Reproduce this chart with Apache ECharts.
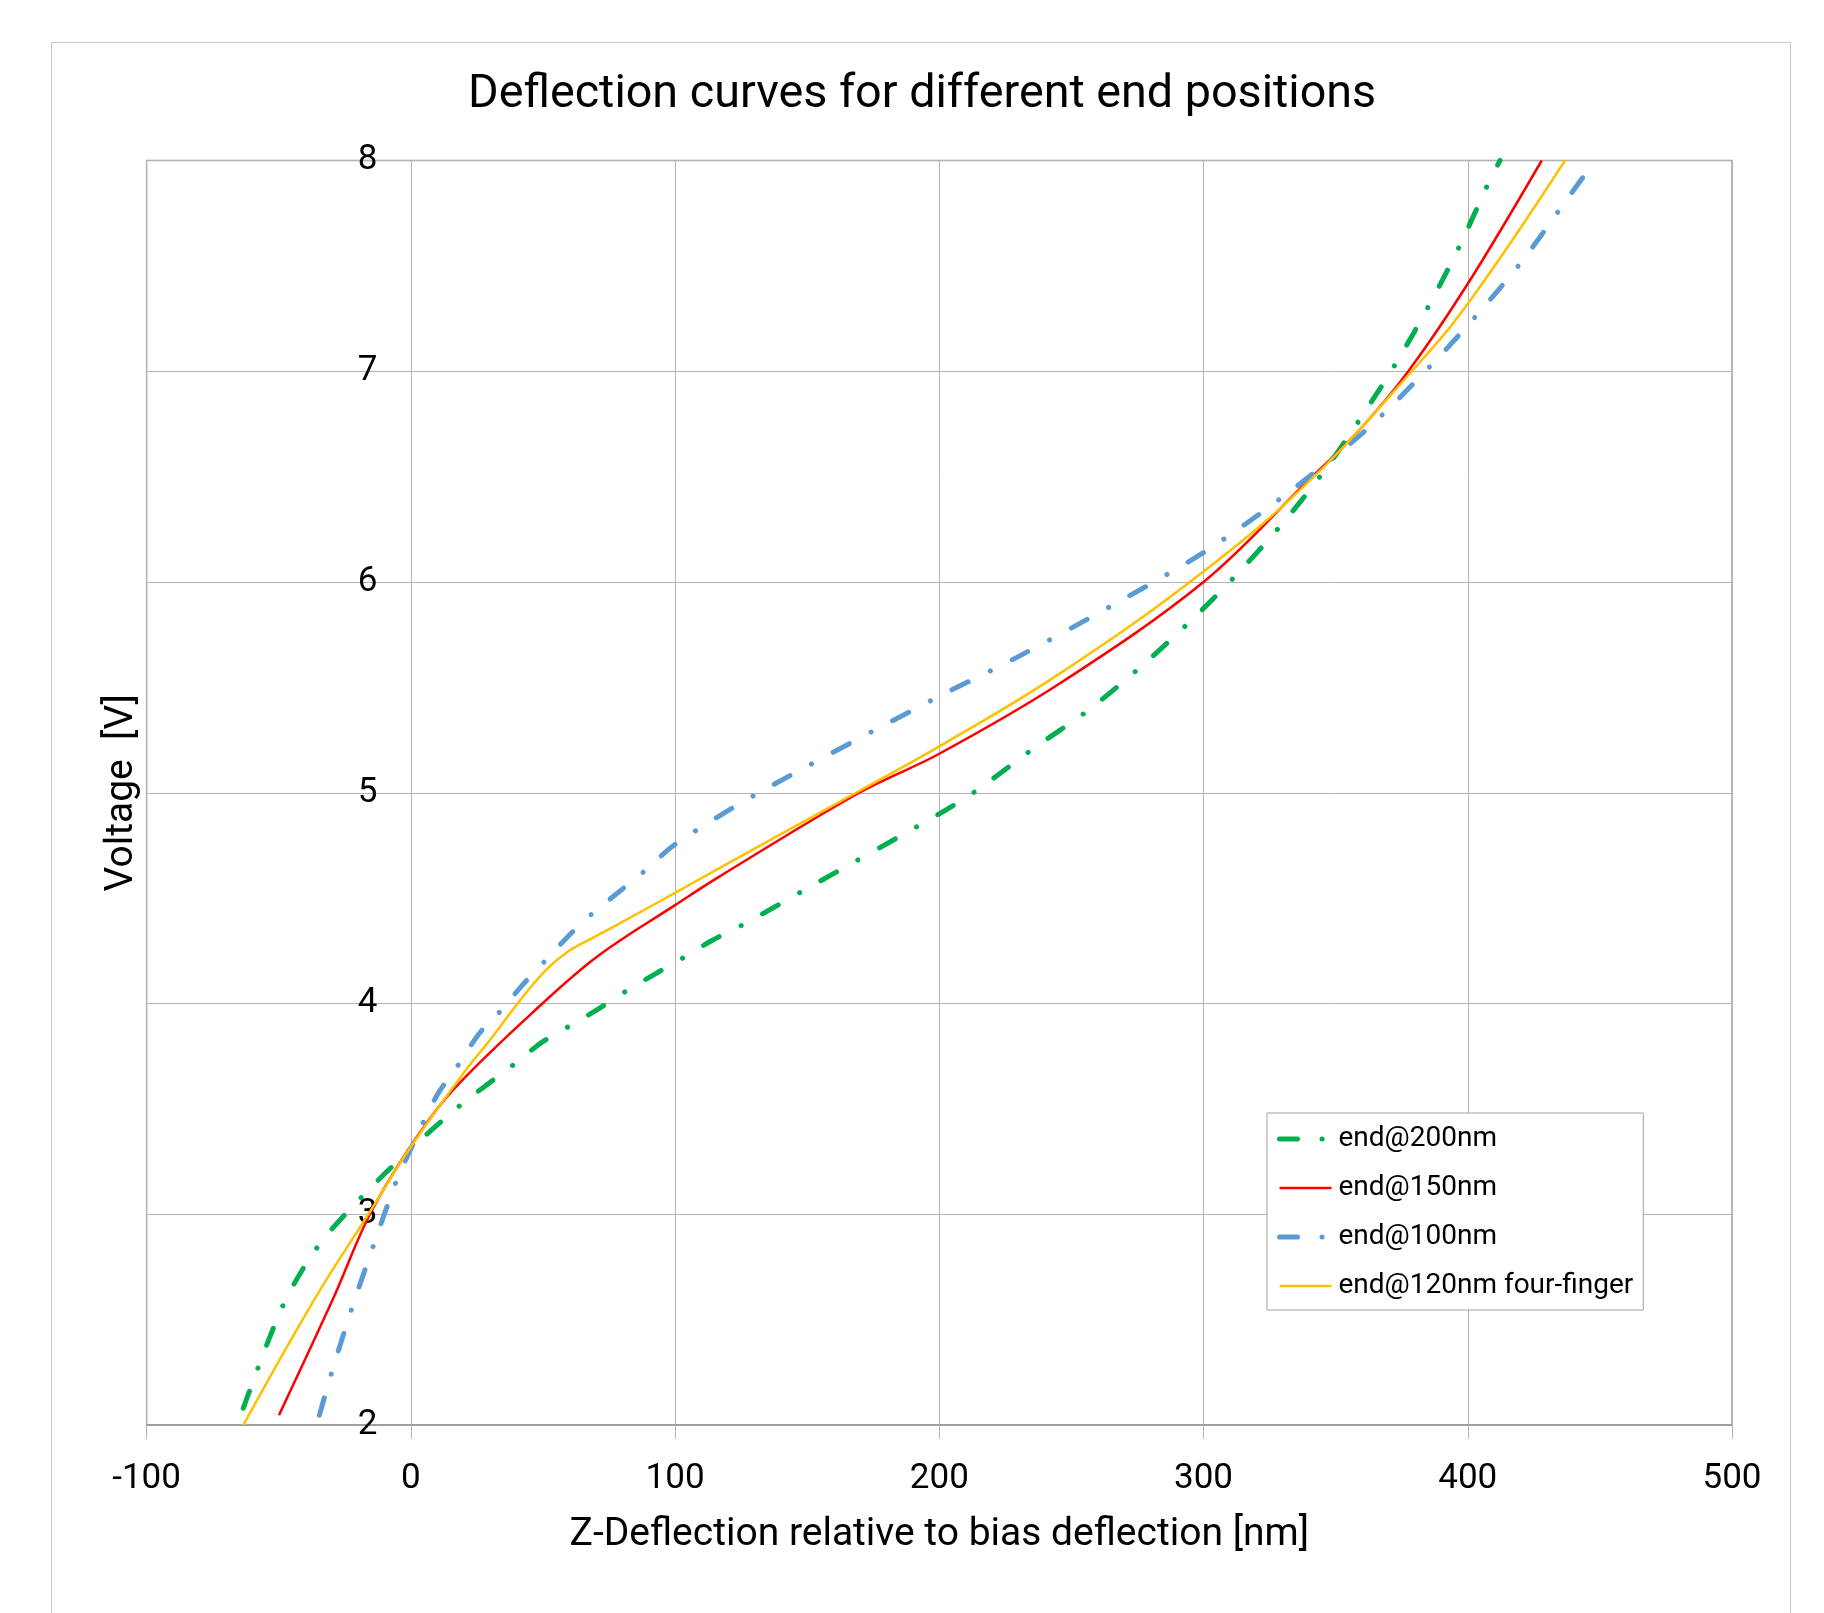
<!DOCTYPE html>
<html>
<head>
<meta charset="utf-8">
<title>Deflection curves</title>
<script src="https://cdn.jsdelivr.net/npm/echarts@6/dist/echarts.min.js"></script>
<style>
  html, body { margin: 0; padding: 0; background: #fff; }
  #chart { width: 1824px; height: 1613px; }
</style>
</head>
<body>
<div id="chart"></div>
<script>
// values (x = deflection nm, v = voltage V)
const seriesNames = ['end@200nm', 'end@150nm', 'end@100nm', 'end@120nm four-finger'];

const end200X = [-63.4, -48.3, -35, -18, 0, 18.8, 39.1, 49.8, 60.2, 71.2, 82, 92.7, 103.8, 114.1, 126.6, 148.3, 200, 214.5, 235.3, 256.1, 275.7, 294.6, 312.5, 329.5, 345.4, 359.6, 373.4, 386.1, 397.5, 408.1, 412.2];
const end200V = [2.08, 2.57, 2.85, 3.09, 3.31, 3.518, 3.712, 3.818, 3.894, 3.976, 4.063, 4.142, 4.222, 4.30, 4.38, 4.534, 4.90, 5.014, 5.207, 5.389, 5.592, 5.809, 6.035, 6.272, 6.522, 6.78, 7.05, 7.33, 7.61, 7.90, 8.0];

const end150X = [-49.9, -29.4, -15.5, 0, 16, 49.8, 71.2, 100, 116.6, 169.7, 200, 245.4, 300, 338.7, 358.9, 377.5, 400, 428];
const end150V = [2.047, 2.6, 3.0, 3.324, 3.59, 4.0, 4.229, 4.467, 4.601, 5.0, 5.185, 5.517, 6.0, 6.47, 6.72, 7.0, 7.415, 8.0];

const end100X = [-34.6, -30, -22.4, -14.2, -5.4, 0, 9.7, 18.3, 25.9, 34, 42.2, 51.1, 59.3, 69, 78.8, 88.6, 100, 130.6, 198, 229, 265.6, 300, 330.6, 361.4, 387, 404, 420.4, 435.5, 445];
const end100V = [2.047, 2.247, 2.55, 2.85, 3.16, 3.31, 3.56, 3.715, 3.858, 3.965, 4.087, 4.206, 4.316, 4.43, 4.53, 4.63, 4.755, 4.992, 5.445, 5.64, 5.89, 6.14, 6.41, 6.72, 7.04, 7.275, 7.52, 7.78, 7.945];

const end120X = [-63.4, -36.3, -16.1, 0, 20.8, 30.9, 40.4, 51.1, 59.9, 68.7, 81.3, 100, 115.4, 168.5, 200, 245.4, 300, 340.6, 378.8, 400, 436.8];
const end120V = [2.0, 2.6, 3.0, 3.32, 3.684, 3.842, 4.0, 4.158, 4.25, 4.31, 4.396, 4.525, 4.633, 5.0, 5.22, 5.564, 6.05, 6.486, 7.0, 7.32, 8.0];

const yTicks = [2, 3, 4, 5, 6, 7, 8];

function zip(xs, ys) {
  return xs.map((x, i) => [x, ys[i]]);
}

const fontFam = 'Roboto, "Liberation Sans", sans-serif';
const gridColor = '#b3b3b3';
const dashDot = [18, 24.5, 0.1, 24.5];

const chart = echarts.init(document.getElementById('chart'), null, { renderer: 'canvas' });

const option = {
  backgroundColor: '#fff',
  textStyle: { fontFamily: fontFam, color: '#000' },
  animation: false,
  title: {
    text: 'Deflection curves for different end positions',
    left: 463,
    top: 67,
    padding: [5, 5, 5, 5],
    textStyle: { fontSize: 46.7, fontWeight: 'normal', color: '#000', fontFamily: fontFam }
  },
  graphic: [{
    type: 'rect',
    shape: { x: 51.5, y: 42.5, width: 1739, height: 1700 },
    style: { fill: 'none', stroke: '#c8c8c8', lineWidth: 1 },
    silent: true,
    z: -10
  }],
  grid: {
    left: 146.6,
    right: 92,
    top: 160.5,
    bottom: 188,
    show: true,
    borderColor: '#a0a0a0',
    borderWidth: 1.5,
    containLabel: false,
    outerBoundsMode: 'none'
  },
  legend: {
    orient: 'vertical',
    left: 1267,
    top: 1113,
    padding: [12, 10, 10, 10],
    itemWidth: 52,
    itemHeight: 20,
    itemGap: 21,
    backgroundColor: '#fff',
    borderColor: '#a0a0a0',
    borderWidth: 1,
    lineStyle: { width: 'inherit' },
    itemStyle: { opacity: 0 },
    textStyle: { fontSize: 28, color: '#000', fontFamily: fontFam, padding: [0, 0, 0, 2] },
    data: seriesNames
  },
  xAxis: {
    type: 'value',
    min: -100,
    max: 500,
    interval: 100,
    name: 'Z-Deflection relative to bias deflection [nm]',
    nameLocation: 'middle',
    nameGap: 91,
    nameTextStyle: { fontSize: 39, color: '#000', fontFamily: fontFam },
    axisLine: { onZero: false, lineStyle: { color: '#a0a0a0', width: 2 } },
    axisTick: { show: true, inside: false, length: 14, lineStyle: { color: gridColor } },
    axisLabel: { fontSize: 35, color: '#000', margin: 36.5, fontFamily: fontFam },
    splitLine: { show: true, lineStyle: { color: gridColor, width: 1 } }
  },
  yAxis: {
    type: 'value',
    min: 2,
    max: 8,
    interval: 1,
    // the axis sits on x = 0, as in the reference
    offset: -264.4,
    name: 'Voltage  [V]',
    nameLocation: 'middle',
    nameGap: 269,
    nameTextStyle: { fontSize: 39, color: '#000', fontFamily: fontFam },
    axisLine: { show: true, onZero: false, lineStyle: { color: gridColor, width: 1 } },
    axisTick: { show: false },
    axisLabel: { fontSize: 35, color: '#000', margin: 33.5, fontFamily: fontFam, padding: [7, 0, 0, 0],
      formatter: v => (yTicks.indexOf(v) >= 0 ? String(v) : '') },
    splitLine: { show: true, lineStyle: { color: gridColor, width: 1 } }
  },
  series: [
    {
      name: seriesNames[0],
      type: 'line',
      data: zip(end200X, end200V),
      symbol: 'none',
      smooth: 0.3,
      lineStyle: { color: '#00B050', width: 5, type: dashDot, cap: 'round' },
      itemStyle: { color: '#00B050' }
    },
    {
      name: seriesNames[1],
      type: 'line',
      data: zip(end150X, end150V),
      symbol: 'none',
      smooth: 0.35,
      lineStyle: { color: '#FF0000', width: 2.5 },
      itemStyle: { color: '#FF0000' }
    },
    {
      name: seriesNames[2],
      type: 'line',
      data: zip(end100X, end100V),
      symbol: 'none',
      smooth: 0.3,
      lineStyle: { color: '#5B9BD5', width: 5, type: dashDot, cap: 'round' },
      itemStyle: { color: '#5B9BD5' }
    },
    {
      name: seriesNames[3],
      type: 'line',
      data: zip(end120X, end120V),
      symbol: 'none',
      smooth: 0.4,
      lineStyle: { color: '#FFC000', width: 2.5 },
      itemStyle: { color: '#FFC000' }
    }
  ]
};

chart.setOption(option);
</script>
</body>
</html>
